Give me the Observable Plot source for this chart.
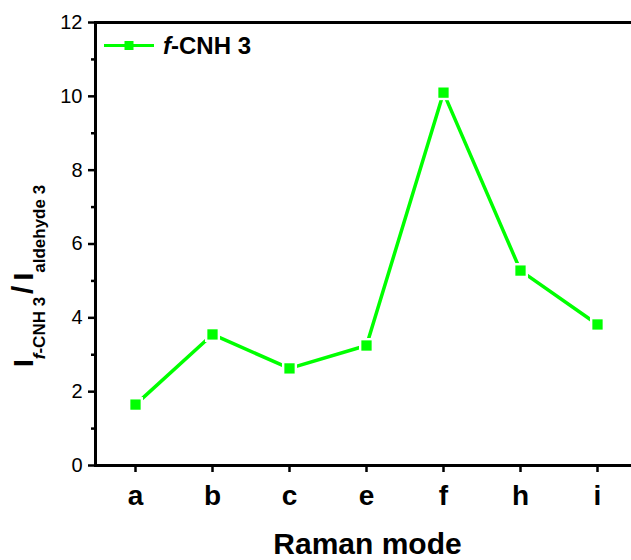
<!DOCTYPE html>
<html>
<head>
<meta charset="utf-8">
<script src="https://cdn.jsdelivr.net/npm/d3@7"></script>
<script src="https://cdn.jsdelivr.net/npm/@observablehq/plot@0.6"></script>
<style>
  body { margin: 0; background: #fff; }
  #chart svg { display: block; }
</style>
</head>
<body>
<div id="chart"></div>
<script>
// Intensity ratio I(f-CNH 3) / I(aldehyde 3) for each Raman mode
const modes = ["a", "b", "c", "e", "f", "h", "i"];
const ratio = [1.65, 3.55, 2.63, 3.25, 10.1, 5.28, 3.82];
const yMajor = [0, 2, 4, 6, 8, 10, 12];
const yMinor = [1, 3, 5, 7, 9, 11];
const seriesName = ["f", "-CNH 3"];
const xTitle = "Raman mode";

const data = modes.map((m, i) => ({mode: m, value: ratio[i]}));

const green = "#00ff00";
const font = "'Liberation Sans', Arial, Helvetica, sans-serif";
const W = 631, H = 560, ML = 95, MT = 22, MB = 95;

const chart = Plot.plot({
  width: W,
  height: H,
  marginLeft: ML,
  marginTop: MT,
  marginBottom: MB,
  marginRight: 0,
  style: {fontFamily: font, color: "#000", background: "#fff", overflow: "hidden"},
  x: {type: "point", domain: modes, range: [ML, 637], padding: 0.5},
  y: {domain: [0, 12], range: [H - MB, MT]},
  marks: [
    Plot.axisY(yMajor, {tickSize: 7, strokeWidth: 2.5, tickPadding: 6, fontSize: 20, label: null}),
    Plot.axisY(yMinor, {tickSize: 4, strokeWidth: 2.5, tickFormat: () => "", label: null}),
    Plot.axisX(modes, {tickSize: 7, strokeWidth: 2.5, tickPadding: 13, fontSize: 28, fontWeight: "bold", label: null}),
    Plot.ruleY([0, 12], {stroke: "#000", strokeWidth: 3}),
    Plot.frame({anchor: "left", stroke: "#000", strokeWidth: 3}),
    Plot.text([xTitle], {frameAnchor: "bottom", dx: 4, dy: 79, lineAnchor: "middle", fontSize: 30, fontWeight: "bold"}),
    Plot.line(data, {x: "mode", y: "value", stroke: green, strokeWidth: 3.5}),
    Plot.dot(data, {x: "mode", y: "value", symbol: "square", r: 8.5, fill: "#fff", stroke: "none"}),
    Plot.dot(data, {x: "mode", y: "value", symbol: "square", r: 5.8, fill: green, stroke: "none"})
  ]
});

const svg = d3.select(chart);

// Rotated y-axis title with subscripts
const yt = svg.append("text")
  .attr("transform", "translate(33,367) rotate(-90)")
  .attr("text-anchor", "start")
  .attr("font-family", font)
  .attr("font-weight", "bold")
  .attr("fill", "#000");
yt.append("tspan").attr("font-size", 28).text("I");
yt.append("tspan").attr("font-size", 17).attr("dy", 12).attr("font-style", "italic").text("f");
yt.append("tspan").attr("font-size", 17).text("-CNH 3");
yt.append("tspan").attr("font-size", 30).attr("dx", 3).attr("dy", -12).text("/");
yt.append("tspan").attr("font-size", 28).attr("dx", 5).text("I");
yt.append("tspan").attr("font-size", 17).attr("dy", 12).text("aldehyde 3");

// Legend entry
const lg = svg.append("g");
lg.append("line").attr("x1", 104).attr("x2", 154).attr("y1", 45.5).attr("y2", 45.5)
  .attr("stroke", green).attr("stroke-width", 3);
lg.append("rect").attr("x", 124.5).attr("y", 41).attr("width", 9).attr("height", 9).attr("fill", green);
const lt = lg.append("text").attr("x", 163).attr("y", 53.5)
  .attr("text-anchor", "start")
  .attr("font-family", font).attr("font-weight", "bold").attr("font-size", 24).attr("fill", "#000");
lt.append("tspan").attr("font-style", "italic").text(seriesName[0]);
lt.append("tspan").text(seriesName[1]);

document.getElementById("chart").appendChild(chart);
</script>
</body>
</html>
